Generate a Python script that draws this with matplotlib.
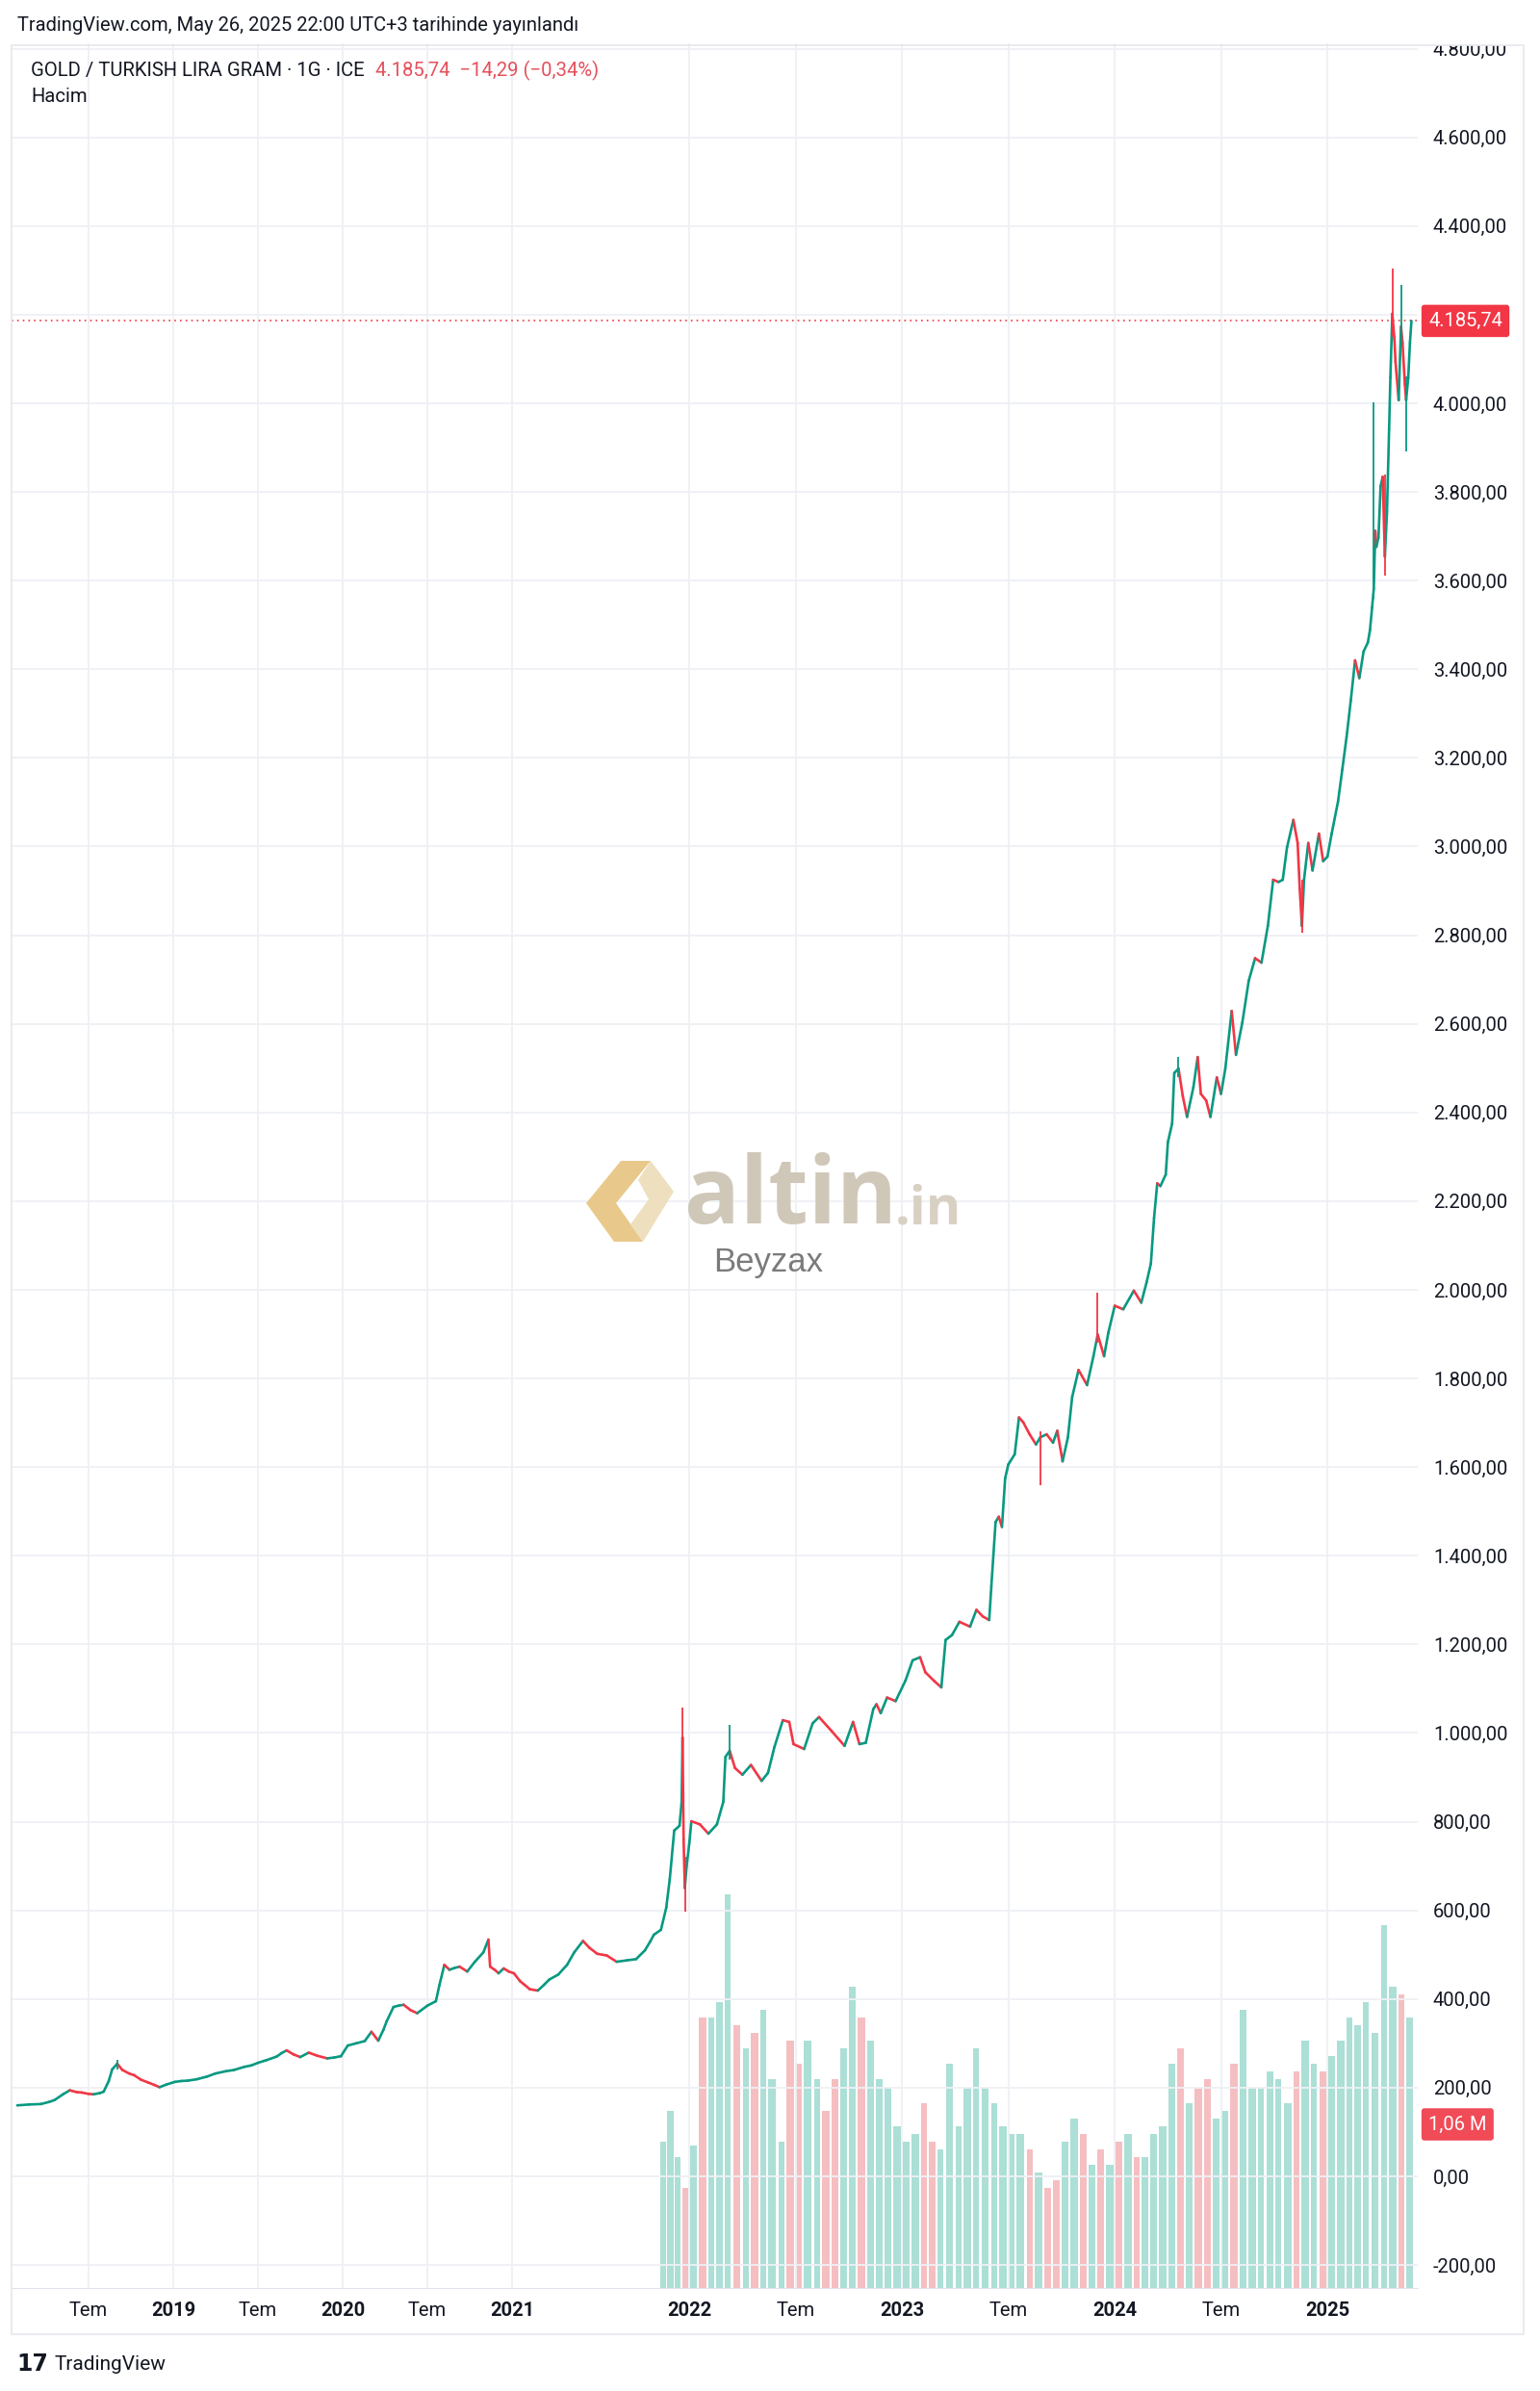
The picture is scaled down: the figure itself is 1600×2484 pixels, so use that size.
import numpy as np
import pandas as pd
import matplotlib
matplotlib.use("Agg")
import matplotlib.pyplot as plt
from matplotlib.collections import LineCollection
from matplotlib.patches import Rectangle, Polygon
from matplotlib.ticker import FuncFormatter

plt.rcParams['font.family'] = ['Roboto', 'DejaVu Sans']

# kapanış fiyatları (ondalık yıl, TL / gram)
price_t = [2018.08, 2018.15, 2018.22, 2018.27, 2018.30, 2018.35, 2018.39, 2018.43, 2018.46, 2018.50,
           2018.53, 2018.57, 2018.59, 2018.62, 2018.64, 2018.67, 2018.70, 2018.74, 2018.77, 2018.81,
           2018.85, 2018.89, 2018.92, 2018.96, 2019.01, 2019.05, 2019.09, 2019.14, 2019.20, 2019.25,
           2019.31, 2019.36, 2019.42, 2019.46, 2019.50, 2019.55, 2019.61, 2019.64, 2019.67, 2019.71,
           2019.75, 2019.80, 2019.85, 2019.91, 2019.95, 2019.99, 2020.03, 2020.08, 2020.13, 2020.17,
           2020.21, 2020.24, 2020.26, 2020.30, 2020.33, 2020.36, 2020.40, 2020.44, 2020.50, 2020.55,
           2020.57, 2020.60, 2020.63, 2020.66, 2020.69, 2020.735, 2020.78, 2020.83, 2020.86, 2020.87,
           2020.90, 2020.92, 2020.95, 2020.98, 2021.01, 2021.045, 2021.07, 2021.10, 2021.145, 2021.18,
           2021.21, 2021.26, 2021.31, 2021.35, 2021.40, 2021.435, 2021.48, 2021.535, 2021.59, 2021.645,
           2021.70, 2021.75, 2021.78, 2021.80, 2021.84, 2021.87, 2021.89, 2021.915, 2021.945, 2021.957,
           2021.962, 2021.968, 2021.975, 2021.985, 2022.00, 2022.01, 2022.05, 2022.09, 2022.13, 2022.16,
           2022.17, 2022.19, 2022.215, 2022.25, 2022.29, 2022.34, 2022.37, 2022.40, 2022.44, 2022.47,
           2022.49, 2022.54, 2022.58, 2022.61, 2022.67, 2022.73, 2022.77, 2022.80, 2022.83, 2022.865,
           2022.88, 2022.90, 2022.93, 2022.97, 2023.016, 2023.05, 2023.085, 2023.11, 2023.15, 2023.185,
           2023.205, 2023.235, 2023.27, 2023.32, 2023.35, 2023.38, 2023.41, 2023.42, 2023.44, 2023.455,
           2023.47, 2023.485, 2023.50, 2023.53, 2023.55, 2023.57, 2023.60, 2023.63, 2023.65, 2023.68,
           2023.71, 2023.73, 2023.755, 2023.78, 2023.80, 2023.83, 2023.87, 2023.90, 2023.92, 2023.95,
           2023.97, 2024.00, 2024.04, 2024.09, 2024.125, 2024.15, 2024.17, 2024.185, 2024.20, 2024.215,
           2024.24, 2024.25, 2024.27, 2024.28, 2024.30, 2024.32, 2024.34, 2024.37, 2024.39, 2024.405,
           2024.43, 2024.45, 2024.48, 2024.50, 2024.52, 2024.55, 2024.57, 2024.60, 2024.63, 2024.66,
           2024.69, 2024.72, 2024.745, 2024.77, 2024.79, 2024.81, 2024.84, 2024.86, 2024.87, 2024.88,
           2024.89, 2024.91, 2024.93, 2024.96, 2024.98, 2025.00, 2025.02, 2025.05, 2025.07, 2025.09,
           2025.11, 2025.13, 2025.15, 2025.17, 2025.19, 2025.20, 2025.21, 2025.218, 2025.225, 2025.23,
           2025.24, 2025.25, 2025.26, 2025.27, 2025.28, 2025.29, 2025.296, 2025.305, 2025.315, 2025.32,
           2025.335, 2025.346, 2025.353, 2025.364, 2025.37, 2025.38, 2025.388, 2025.395]
price_c = [160, 162, 163, 168, 172, 185, 194, 190, 189, 186,
           185, 188, 191, 215, 241, 254, 240, 232, 228, 218,
           212, 206, 201, 207, 213, 215, 216, 219, 225, 232,
           237, 240, 247, 250, 256, 262, 270, 278, 284, 275,
           269, 279, 272, 266, 268, 271, 295, 300, 305, 326,
           306, 330, 350, 382, 385, 387, 375, 368, 385, 395,
           430, 477, 466, 470, 473, 462, 484, 505, 534, 473,
           465, 458, 469, 462, 458, 440, 432, 422, 419, 432,
           444, 455, 477, 505, 531, 516, 502, 498, 484, 487,
           490, 510, 530, 545, 556, 606, 671, 780, 791, 845,
           990, 760, 650, 700, 751, 801, 794, 773, 794, 845,
           946, 960, 921, 906, 928, 892, 910, 968, 1029, 1025,
           975, 964, 1022, 1036, 1004, 971, 1025, 975, 978, 1054,
           1065, 1045, 1080, 1072, 1118, 1164, 1171, 1137, 1118, 1103,
           1210, 1221, 1251, 1240, 1278, 1263, 1255, 1331, 1476, 1488,
           1465, 1575, 1606, 1629, 1712, 1701, 1674, 1651, 1667, 1674,
           1655, 1682, 1613, 1667, 1758, 1819, 1785, 1850, 1899, 1850,
           1903, 1964, 1956, 1998, 1971, 2017, 2059, 2162, 2240, 2234,
           2260, 2333, 2375, 2489, 2499, 2437, 2390, 2457, 2525, 2442,
           2427, 2390, 2479, 2442, 2499, 2629, 2530, 2603, 2697, 2748,
           2738, 2821, 2925, 2920, 2925, 2998, 3060, 3008, 2904, 2821,
           2925, 3008, 2946, 3029, 2967, 2977, 3029, 3102, 3174, 3247,
           3330, 3420, 3380, 3440, 3460, 3488, 3539, 3582, 3712, 3676,
           3697, 3813, 3834, 3654, 3755, 3942, 4058, 4202, 4144, 4094,
           4007, 4173, 4137, 4043, 4007, 4058, 4137, 4185.74]

# belirgin fitiller
wick_t = [2018.67, 2021.962, 2021.975, 2022.19, 2023.65, 2023.92, 2024.30, 2024.88,
          2025.218, 2025.27, 2025.305, 2025.346, 2025.37]
wick_lo = [240, 845, 596, 940, 1560, 1880, 2480, 2805, 3560, 3611, 4150, 4130, 3892]
wick_hi = [262, 1058, 720, 1018, 1680, 1994, 2525, 2925, 4001, 3840, 4303, 4267, 4060]
wick_up = [True, False, False, True, False, False, True, False, True, False, False, True, True]

# hacim (milyon), yarım aylık
vol_dates = pd.date_range("2021-11-01", "2025-05-15", freq="SMS")
vol_m = [0.95, 1.15, 0.85, 0.65,
         0.92, 1.75, 1.75, 1.85, 2.55, 1.70, 1.55, 1.65, 1.80, 1.35, 0.95, 1.60,
         1.45, 1.60, 1.35, 1.15, 1.35, 1.55, 1.95, 1.75, 1.60, 1.35, 1.30, 1.05,
         0.95, 1.00, 1.20, 0.95, 0.90, 1.45, 1.05, 1.30, 1.55, 1.30, 1.20, 1.05,
         1.00, 1.00, 0.90, 0.75, 0.65, 0.70, 0.95, 1.10, 1.00, 0.80, 0.90, 0.80,
         0.95, 1.00, 0.85, 0.85, 1.00, 1.05, 1.45, 1.55, 1.20, 1.30, 1.35, 1.10,
         1.15, 1.45, 1.80, 1.30, 1.30, 1.40, 1.35, 1.20, 1.40, 1.60, 1.45, 1.40,
         1.50, 1.60, 1.75, 1.70, 1.85, 1.65, 2.35, 1.95, 1.90, 1.75]

tick_t = [2018.5, 2019, 2019.5, 2020, 2020.5, 2021, 2022, 2022.5, 2023, 2023.5, 2024, 2024.5, 2025]
tick_labels = ["Tem", "2019", "Tem", "2020", "Tem", "2021", "2022", "Tem", "2023", "Tem", "2024", "Tem", "2025"]

last_price = 4185.74
last_vol = 1.06

# TradingView ekseni bar sayısına göre: 2022 öncesi yılda daha az bar var
anchor_year = [2018, 2019, 2020, 2021, 2022, 2023, 2024, 2025, 2026]
anchor_bar = [0, 200, 400, 600, 809, 1060, 1311, 1562, 1813]


def to_bar(t):
    return np.interp(t, anchor_year, anchor_bar)


UP = '#089981'
DOWN = '#f23645'
TXT = '#131722'
GRID = '#eef0f4'

W, H = 1600, 2484


def fx(x):
    return x / W


def fy(y):
    return 1 - y / H


fig = plt.figure(figsize=(W / 100, H / 100), dpi=100)
fig.patch.set_facecolor('white')

rect = [fx(12), fy(2377), (1473 - 12) / W, (2377 - 45) / H]
ax_vol = fig.add_axes(rect)
ax = fig.add_axes(rect)
ax.set_facecolor('none')

xlim = (9.3, 1668.6)

# hacim
vt = np.array([d.year + (d.dayofyear - 1) / 365.0 for d in vol_dates])
vx = to_bar(vt)
step = np.diff(vx)
step = np.append(step, step[-1])
p_start = np.interp(vt, price_t, price_c)
p_end = np.interp(vt + step / 251.0, price_t, price_c)
vcols = np.where(p_end >= p_start, '#acdfd6', '#f5bfc2')
ax_vol.bar(vx + step * 0.12, vol_m, width=step * 0.76, align='edge', color=vcols, linewidth=0)
ax_vol.set_ylim(0, last_vol * 2332 / 170)
ax_vol.set_xlim(*xlim)
ax_vol.axis('off')

# fiyat
xb = to_bar(np.array(price_t))
pts = np.column_stack([xb, price_c])
segs = np.stack([pts[:-1], pts[1:]], axis=1)
cols = np.where(np.diff(price_c) >= 0, UP, DOWN)
ax.add_collection(LineCollection(segs, colors=cols, linewidths=1.9, capstyle='round', zorder=3))
ax.vlines(to_bar(np.array(wick_t)), wick_lo, wick_hi,
          colors=[UP if u else DOWN for u in wick_up], linewidth=1.3, zorder=3)

ax.axhline(last_price, color=DOWN, ls=(0, (1, 2.5)), lw=1.2, zorder=2)

ax.set_xlim(*xlim)
ax.set_ylim(-252, 4812)

ax.set_yticks(range(-200, 4801, 200))


def tr_fmt(v, pos):
    s = f"{v:,.2f}"
    return s.replace(',', 'X').replace('.', ',').replace('X', '.')


ax.yaxis.set_major_formatter(FuncFormatter(tr_fmt))
ax.yaxis.tick_right()
ax.tick_params(axis='y', length=0, pad=11.5, labelsize=14.5, labelcolor=TXT)

ax.set_xticks(to_bar(np.array(tick_t)))
ax.set_xticklabels(tick_labels)
ax.tick_params(axis='x', length=0, pad=10, labelsize=14.5, labelcolor=TXT)
for lab in ax.get_xticklabels():
    if lab.get_text() != "Tem":
        lab.set_fontweight('bold')

ax.grid(True, color=GRID, lw=1.3, zorder=0)
ax.set_axisbelow(True)
for s in ['top', 'right', 'left']:
    ax.spines[s].set_visible(False)
ax.spines['bottom'].set_color('#e0e3eb')

# son fiyat ve hacim etiketleri
ax.annotate("4.185,74", xy=(1.0, last_price), xycoords=('axes fraction', 'data'),
            xytext=(8, 0), textcoords='offset points', ha='left', va='center',
            color='white', fontsize=14.5, annotation_clip=False, zorder=10,
            bbox=dict(boxstyle='round,pad=0.36,rounding_size=0.15', fc=DOWN, ec='none'))
ax_vol.annotate("1,06 M", xy=(1.0, last_vol), xycoords=('axes fraction', 'data'),
                xytext=(8, 0), textcoords='offset points', ha='left', va='center',
                color='white', fontsize=14.5, annotation_clip=False, zorder=10,
                bbox=dict(boxstyle='round,pad=0.36,rounding_size=0.15', fc='#f04b57', ec='none'))

# üst kısımda kesilen etiket ve çerçeve
fig.add_artist(Rectangle((fx(1474), fy(47)), 1 - fx(1474), 47 / H, transform=fig.transFigure,
                         fc='white', ec='none', zorder=5))
fig.add_artist(Rectangle((fx(12), fy(2425)), (1583 - 12) / W, (2425 - 47) / H,
                         transform=fig.transFigure, fill=False, ec='#e6e8ee', lw=1.2, zorder=6))

# başlıklar
fig.text(fx(18), fy(27), "TradingView.com, May 26, 2025 22:00 UTC+3 tarihinde yayınlandı",
         fontsize=14.5, color=TXT, va='center', ha='left')
t1 = fig.text(fx(32), fy(73), "GOLD / TURKISH LIRA GRAM · 1G · ICE",
              fontsize=14.6, color=TXT, va='center', ha='left')
fig.add_artist(plt.Annotation("4.185,74  \u221214,29 (\u22120,34%)", xy=(1, 0.5), xycoords=t1,
                              xytext=(8, 0), textcoords='offset points', va='center', ha='left',
                              fontsize=14.6, color='#e5505c'))
fig.text(fx(32), fy(101), "Hacim", fontsize=14.6, color=TXT, va='center', ha='left')

# altin.in filigranı
gold = Polygon([(fx(x), fy(y)) for x, y in
                [(645, 1206), (676, 1206), (640, 1250), (668, 1290), (638, 1290), (609, 1250)]],
               closed=True, transform=fig.transFigure, fc='#e8c98b', ec='none', zorder=4)
light = Polygon([(fx(x), fy(y)) for x, y in
                 [(676, 1206), (700, 1238), (668, 1290), (655, 1272), (674, 1246), (663, 1226)]],
                closed=True, transform=fig.transFigure, fc='#eedfbf', ec='none', zorder=4)
fig.add_artist(gold)
fig.add_artist(light)
fig.text(fx(711), fy(1271), "altin", fontsize=69, fontweight='bold', family='Open Sans',
         color='#cfc8b9', va='baseline', ha='left', zorder=4)
fig.text(fx(930), fy(1271), ".in", fontsize=40, fontweight='bold', family='Open Sans',
         color='#d8d1c3', va='baseline', ha='left', zorder=4)
fig.text(fx(798), fy(1312), "Beyzax", fontsize=25, color='#7b7b7b', va='center', ha='center',
         family='Liberation Sans', zorder=4)

# alt logo
fig.text(fx(17), fy(2456), "17", fontsize=17, fontweight='heavy', family='DejaVu Sans',
         color=TXT, va='center', ha='left')
fig.text(fx(57), fy(2456), "TradingView", fontsize=15, color=TXT, va='center', ha='left')

fig.savefig("out.png", dpi=100, facecolor='white')
